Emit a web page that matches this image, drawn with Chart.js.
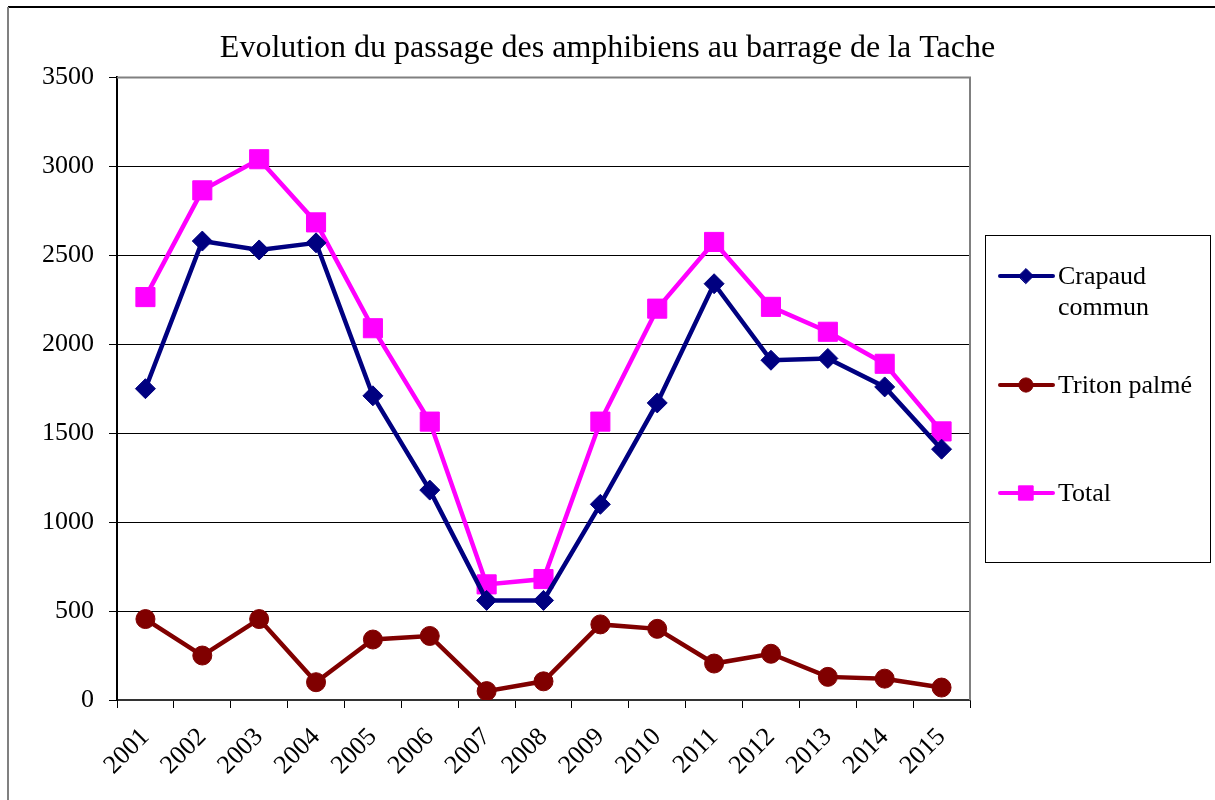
<!DOCTYPE html>
<html>
<head>
<meta charset="utf-8">
<script src="https://cdn.jsdelivr.net/npm/chart.js@4.4.1/dist/chart.umd.min.js"></script>
<style>
  html, body { margin: 0; padding: 0; background: #fff; }
  #wrap { width: 1215px; height: 800px; }
</style>
</head>
<body>
<div id="wrap"><canvas id="chart" width="1215" height="800"></canvas></div>
<script>
// data
const years = ['2001', '2002', '2003', '2004', '2005', '2006', '2007', '2008',
               '2009', '2010', '2011', '2012', '2013', '2014', '2015'];
const crapaud = [1750, 2580, 2530, 2570, 1710, 1180, 560, 560, 1100, 1670, 2340, 1910, 1920, 1760, 1410];
const triton = [455, 250, 455, 100, 340, 360, 50, 105, 425, 400, 205, 260, 130, 120, 70];
const total = [2265, 2865, 3040, 2685, 2090, 1565, 650, 680, 1565, 2200, 2575, 2210, 2070, 1890, 1510];
const yTicks = [0, 500, 1000, 1500, 2000, 2500, 3000, 3500];

const serif = '"Liberation Serif", "Times New Roman", serif';

// frame, plot border and the boxed legend on the right
const decor = {
    id: 'decor',
    afterDraw(chart) {
        const ctx = chart.ctx;
        const a = chart.chartArea;
        ctx.save();
        // outer frame (top + left only visible)
        ctx.strokeStyle = '#000';
        ctx.lineWidth = 2;
        ctx.beginPath();
        ctx.moveTo(1215, 7);
        ctx.lineTo(8, 7);
        ctx.stroke();
        ctx.strokeStyle = '#808080';
        ctx.beginPath();
        ctx.moveTo(8, 7);
        ctx.lineTo(8, 800);
        ctx.stroke();
        // plot area top and right edges
        ctx.beginPath();
        ctx.moveTo(a.left, a.top);
        ctx.lineTo(a.right, a.top);
        ctx.lineTo(a.right, a.bottom);
        ctx.stroke();

        // legend box
        ctx.strokeStyle = '#000';
        ctx.lineWidth = 1;
        ctx.strokeRect(985.5, 235.5, 225, 327);
        const rows = [
            { ds: 0, y: 276, text: ['Crapaud', 'commun'] },
            { ds: 1, y: 385, text: ['Triton palmé'] },
            { ds: 2, y: 493, text: ['Total'] }
        ];
        ctx.font = '26px ' + serif;
        ctx.textBaseline = 'middle';
        ctx.fillStyle = '#000';
        rows.forEach(r => {
            const ds = chart.data.datasets[r.ds];
            ctx.strokeStyle = ds.borderColor;
            ctx.lineWidth = 4;
            ctx.lineCap = 'round';
            ctx.beginPath();
            ctx.moveTo(1000, r.y);
            ctx.lineTo(1053, r.y);
            ctx.stroke();
            ctx.fillStyle = ds.pointBackgroundColor;
            ctx.strokeStyle = ds.pointBackgroundColor;
            ctx.lineWidth = 1;
            Chart.helpers.drawPoint(ctx, {
                pointStyle: ds.pointStyle,
                radius: ds.pointRadius * 0.75,
                borderWidth: 1,
                rotation: 0
            }, 1026, r.y);
            ctx.fillStyle = '#000';
            r.text.forEach((t, i) => ctx.fillText(t, 1058, r.y + 1 + i * 31));
        });
        ctx.restore();
    }
};

const ctx = document.getElementById('chart').getContext('2d');
const chart = new Chart(ctx, {
    type: 'line',
    data: {
        labels: years,
        datasets: [
            {
                label: 'Crapaud commun',
                data: crapaud,
                borderColor: '#000080',
                backgroundColor: '#000080',
                pointBackgroundColor: '#000080',
                pointBorderColor: '#000080',
                borderWidth: 4.5,
                pointStyle: 'rectRot',
                pointRadius: 10,
                pointBorderWidth: 1,
                tension: 0
            },
            {
                label: 'Triton palmé',
                data: triton,
                borderColor: '#800000',
                backgroundColor: '#800000',
                pointBackgroundColor: '#800000',
                pointBorderColor: '#800000',
                borderWidth: 4.5,
                pointStyle: 'circle',
                pointRadius: 9.5,
                pointBorderWidth: 1,
                tension: 0
            },
            {
                label: 'Total',
                data: total,
                borderColor: '#ff00ff',
                backgroundColor: '#ff00ff',
                pointBackgroundColor: '#ff00ff',
                pointBorderColor: '#ff00ff',
                borderWidth: 4.5,
                pointStyle: 'rect',
                pointRadius: 13.5,
                pointBorderWidth: 1,
                tension: 0
            }
        ]
    },
    options: {
        responsive: false,
        animation: false,
        layout: { padding: 0 },
        plugins: {
            legend: { display: false },
            tooltip: { enabled: false },
            title: {
                display: true,
                text: 'Evolution du passage des amphibiens au barrage de la Tache',
                color: '#000',
                font: { family: serif, size: 32, weight: 'normal' },
                padding: { top: 29, bottom: 10 }
            }
        },
        scales: {
            x: {
                offset: true,
                grid: {
                    offset: true,
                    drawOnChartArea: false,
                    color: '#000',
                    tickLength: 8
                },
                border: { color: '#333', width: 2 },
                ticks: {
                    color: '#000',
                    font: { family: serif, size: 26 },
                    minRotation: 45,
                    maxRotation: 45,
                    padding: 14
                },
                afterFit: s => { s.height = 100; }
            },
            y: {
                min: 0,
                max: 3500,
                afterBuildTicks: s => { s.ticks = yTicks.map(v => ({ value: v })); },
                grid: { color: '#000', lineWidth: 1, tickLength: 8 },
                border: { color: '#000', width: 2 },
                ticks: {
                    color: '#000',
                    font: { family: serif, size: 26 },
                    padding: 15,
                    callback: v => String(v)
                },
                afterFit: s => { s.width = 117; }
            },
            yR: {
                position: 'right',
                display: true,
                grid: { display: false, drawTicks: false },
                border: { display: false },
                ticks: { display: false },
                afterFit: s => { s.width = 245; }
            }
        }
    },
    plugins: [decor]
});
</script>
</body>
</html>
